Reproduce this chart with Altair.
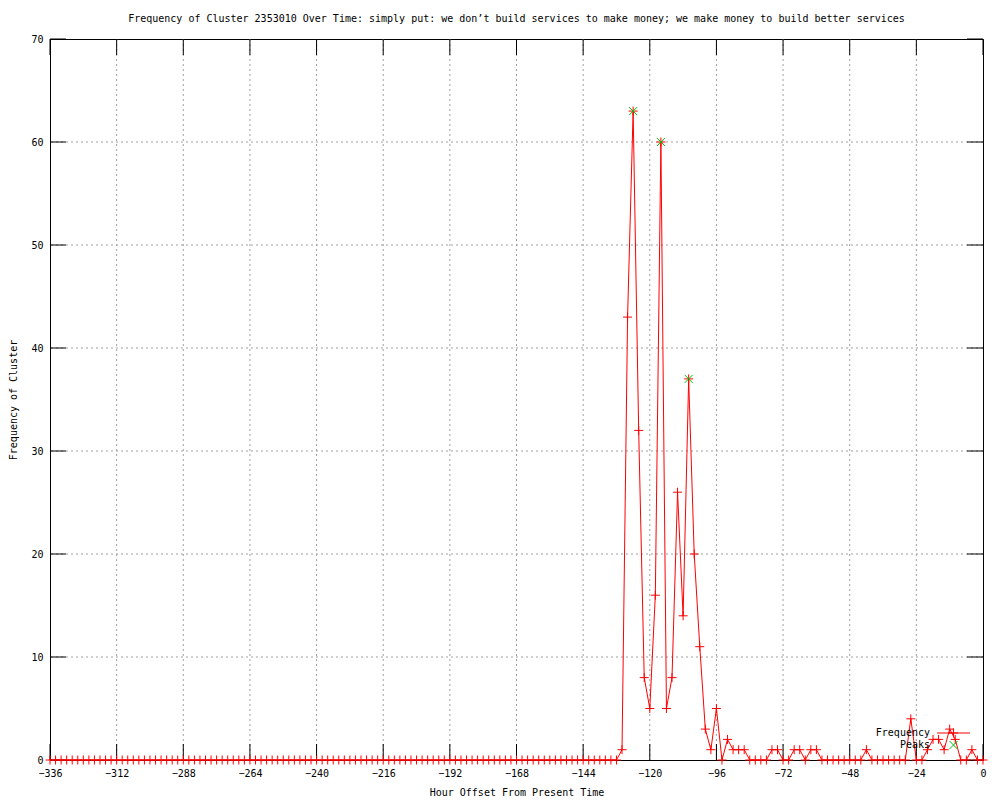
import altair as alt
import pandas as pd

# ---- data ----
hours = list(range(-336, 1, 2))          # one sample every 2 hours
freq = [0] * 103 + [
    1, 43, 63, 32, 8, 5, 16, 60, 5, 8,
    26, 14, 37, 20, 11, 3, 1, 5, 0, 2,
    1, 1, 1, 0, 0, 0, 0, 1, 1, 0,
    0, 1, 1, 0, 1, 1, 0, 0, 0, 0,
    0, 0, 0, 0, 1, 0, 0, 0, 0, 0,
    0, 0, 4, 0, 0, 1, 2, 2, 1, 3,
    2, 0, 0, 1, 0, 0,
]
peak_hours = [-126, -116, -106]
peak_values = [63, 60, 37]
x_ticks = [-336, -312, -288, -264, -240, -216, -192, -168, -144, -120, -96, -72, -48, -24, 0]
y_ticks = [0, 10, 20, 30, 40, 50, 60, 70]
legend_labels = ["Frequency", "Peaks"]

TITLE = "Frequency of Cluster 2353010 Over Time: simply put: we don\u2019t build services to make money; we make money to build better services"

W, H = 933, 721
MONO = "DejaVu Sans Mono"
RED = "#ff0000"
GREEN = "#00c000"
GRID = "#a0a0a0"
TICK = 16
CROSS = "M-1,0L1,0M0,-1L0,1"
XSHAPE = "M-1,-1L1,1M-1,1L1,-1"

df = pd.DataFrame({"hour": hours, "freq": freq})
pk = pd.DataFrame({"hour": peak_hours, "freq": peak_values})
xt = pd.DataFrame({"hour": x_ticks})
yt = pd.DataFrame({"freq": y_ticks})
xg = pd.DataFrame({"hour": x_ticks[1:-1]})
yg = pd.DataFrame({"freq": y_ticks[1:-1]})

xs = alt.Scale(domain=[-336, 0], nice=False, zero=False)
ys = alt.Scale(domain=[0, 70], nice=False, zero=False)

x_axis = alt.Axis(
    values=x_ticks, ticks=False, domain=False, grid=False,
    labelFont=MONO, labelFontSize=10, labelColor="black", labelPadding=8,
    labelFlush=False, labelOverlap=False,
    title="Hour Offset From Present Time", titleFont=MONO, titleFontSize=10,
    titleFontWeight="normal", titleColor="black",
    titleX=W / 2, titleY=32, titleAlign="center", titleBaseline="middle",
)
y_axis = alt.Axis(
    values=y_ticks, ticks=False, domain=False, grid=False,
    labelFont=MONO, labelFontSize=10, labelColor="black", labelPadding=7,
    labelFlush=False, labelOverlap=False,
    title="Frequency of Cluster", titleFont=MONO, titleFontSize=10,
    titleFontWeight="normal", titleColor="black",
    titleX=-37, titleY=H / 2, titleAngle=270, titleAlign="center", titleBaseline="middle",
)


def X():
    return alt.X("hour:Q", scale=xs, axis=x_axis)


def Y():
    return alt.Y("freq:Q", scale=ys, axis=y_axis)


grid_x = alt.Chart(xg).mark_rule(color=GRID, strokeDash=[2, 3], strokeWidth=1).encode(x=X())
grid_y = alt.Chart(yg).mark_rule(color=GRID, strokeDash=[2, 3], strokeWidth=1).encode(y=Y())

tick_b = alt.Chart(xt).mark_rule(color="black", strokeWidth=1).encode(
    x=X(), y=alt.value(H), y2=alt.value(H - TICK))
tick_t = alt.Chart(xt).mark_rule(color="black", strokeWidth=1).encode(
    x=X(), y=alt.value(0), y2=alt.value(TICK))
tick_l = alt.Chart(yt).mark_rule(color="black", strokeWidth=1).encode(
    y=Y(), x=alt.value(0), x2=alt.value(TICK))
tick_r = alt.Chart(yt).mark_rule(color="black", strokeWidth=1).encode(
    y=Y(), x=alt.value(W), x2=alt.value(W - TICK))

line = alt.Chart(df).mark_line(color=RED, strokeWidth=1).encode(x=X(), y=Y())
pts = alt.Chart(df).mark_point(shape=CROSS, size=81, filled=False, color=RED,
                               strokeWidth=1, opacity=1).encode(x=X(), y=Y())
peaks = alt.Chart(pk).mark_point(shape=XSHAPE, size=64, filled=False, color=GREEN,
                                 strokeWidth=1, opacity=1).encode(x=X(), y=Y())

# ---- key (gnuplot style: text left, sample right) ----
leg_df1 = pd.DataFrame({"label": [legend_labels[0]]})
leg_df2 = pd.DataFrame({"label": [legend_labels[1]]})
leg_t1 = alt.Chart(leg_df1).mark_text(font=MONO, fontSize=10, align="right", baseline="middle",
                                      color="black").encode(
    x=alt.value(880), y=alt.value(694), text="label:N")
leg_t2 = alt.Chart(leg_df2).mark_text(font=MONO, fontSize=10, align="right", baseline="middle",
                                      color="black").encode(
    x=alt.value(880), y=alt.value(706), text="label:N")
leg_line = alt.Chart(leg_df1).mark_rule(color=RED, strokeWidth=1).encode(
    x=alt.value(887), x2=alt.value(920), y=alt.value(694))
leg_pt1 = alt.Chart(leg_df1).mark_point(shape=CROSS, size=81, filled=False, color=RED,
                                        strokeWidth=1, opacity=1).encode(
    x=alt.value(903.5), y=alt.value(694))
leg_pt2 = alt.Chart(leg_df2).mark_point(shape=XSHAPE, size=64, filled=False, color=GREEN,
                                        strokeWidth=1, opacity=1).encode(
    x=alt.value(903.5), y=alt.value(706))

chart = alt.layer(
    grid_x, grid_y, tick_b, tick_t, tick_l, tick_r, line, pts, peaks,
    leg_t1, leg_t2, leg_line, leg_pt1, leg_pt2,
).properties(
    width=W, height=H,
    title=alt.TitleParams(text=TITLE, font=MONO, fontSize=10, fontWeight="normal",
                          color="black", anchor="middle", frame="group",
                          baseline="middle", offset=5),
    autosize=alt.AutoSizeParams(type="none"),
    padding={"left": 42, "top": 31, "right": 9, "bottom": 38},
    background="white",
).configure_view(stroke="black", strokeWidth=1)

chart.save("out.html", embed_options={"renderer": "svg", "actions": False})
